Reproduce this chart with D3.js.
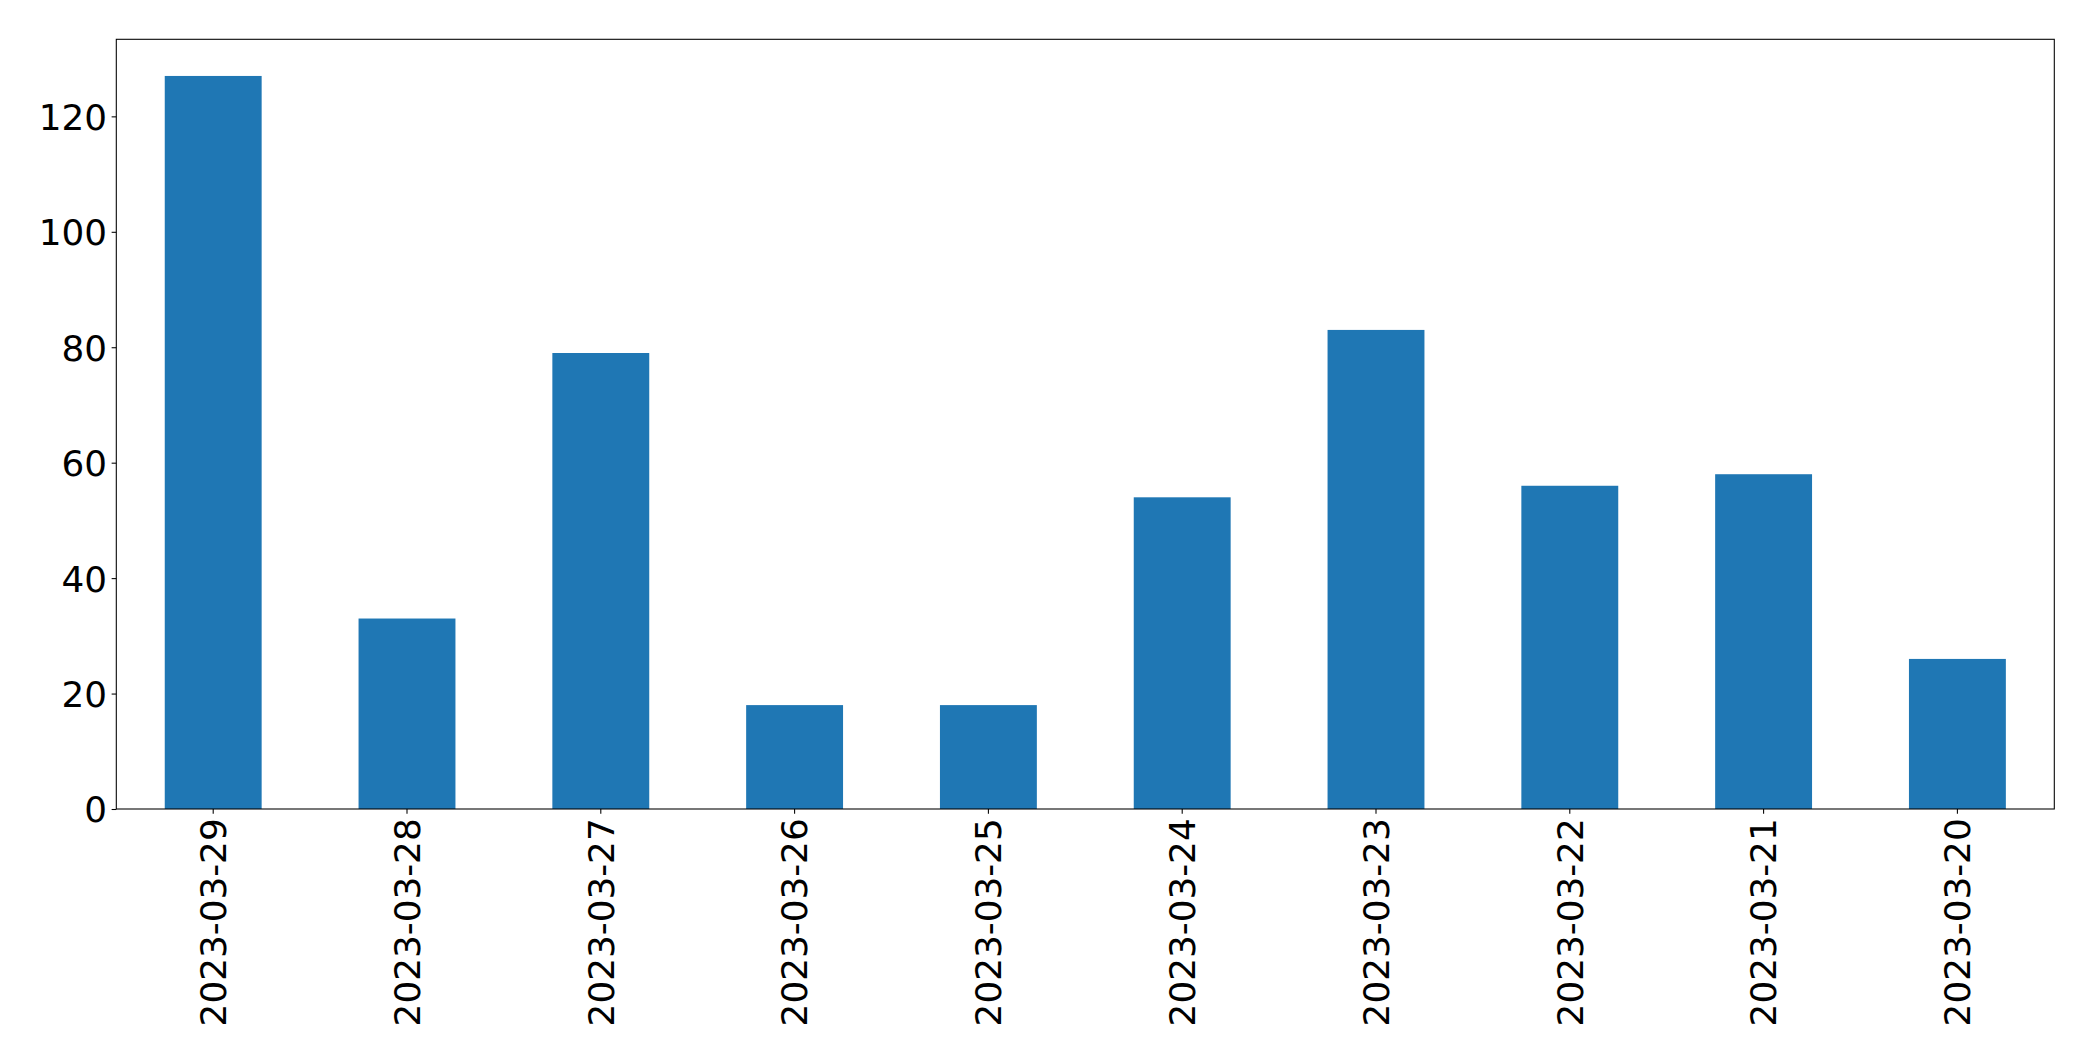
<!DOCTYPE html>
<html>
<head>
<meta charset="utf-8">
<script src="https://cdn.jsdelivr.net/npm/d3@7/dist/d3.min.js"></script>
<style>
  html, body { margin: 0; padding: 0; background: #fff; }
  svg { display: block; }
  text { font-family: "DejaVu Sans", sans-serif; }
</style>
</head>
<body>
<svg id="chart" width="2093" height="1061"></svg>
<script>
const categories = ["2023-03-29","2023-03-28","2023-03-27","2023-03-26","2023-03-25","2023-03-24","2023-03-23","2023-03-22","2023-03-21","2023-03-20"];
const values = [127, 33, 79, 18, 18, 54, 83, 56, 58, 26];
const yTicks = [0, 20, 40, 60, 80, 100, 120];

const plotLeft = 116.3, plotRight = 2054.3, plotTop = 39.3, plotBottom = 809;
const fontPx = 35.8;
const tickLen = 4.67, tickPad = 4.67;

const svg = d3.select("#chart");

const x = d3.scaleBand()
  .domain(categories)
  .range([plotLeft, plotRight])
  .paddingInner(0.5)
  .paddingOuter(0.25);

const y = d3.scaleLinear()
  .domain([0, d3.max(values) * 1.05])
  .range([plotBottom, plotTop]);

// bars
svg.append("g")
  .selectAll("rect")
  .data(values)
  .join("rect")
  .attr("x", (d, i) => x(categories[i]))
  .attr("width", x.bandwidth())
  .attr("y", d => y(d))
  .attr("height", d => y(0) - y(d))
  .attr("fill", "#1f77b4");

// y axis
const yAxis = svg.append("g")
  .attr("transform", `translate(${plotLeft},0)`)
  .call(d3.axisLeft(y).tickValues(yTicks).tickSize(tickLen).tickPadding(tickPad).tickFormat(d3.format("d")));
yAxis.select(".domain").remove();
yAxis.selectAll("line").attr("stroke", "#000").attr("stroke-width", 1.07);
yAxis.selectAll("text")
  .attr("font-size", fontPx)
  .attr("font-family", "DejaVu Sans, sans-serif")
  .attr("fill", "#000")
  .attr("dy", "0.36em");

// x axis
const xAxis = svg.append("g")
  .attr("transform", `translate(0,${plotBottom})`)
  .call(d3.axisBottom(x).tickSize(tickLen).tickPadding(tickPad));
xAxis.select(".domain").remove();
xAxis.selectAll("line").attr("stroke", "#000").attr("stroke-width", 1.07);
xAxis.selectAll("text")
  .attr("font-size", fontPx)
  .attr("font-family", "DejaVu Sans, sans-serif")
  .attr("fill", "#000")
  .attr("transform", `rotate(-90)`)
  .attr("text-anchor", "end")
  .attr("x", -(tickLen + tickPad))
  .attr("y", 0)
  .attr("dy", "0.36em");

// frame
svg.append("rect")
  .attr("x", plotLeft)
  .attr("y", plotTop)
  .attr("width", plotRight - plotLeft)
  .attr("height", plotBottom - plotTop)
  .attr("fill", "none")
  .attr("stroke", "#000")
  .attr("stroke-width", 1.07);
</script>
</body>
</html>
